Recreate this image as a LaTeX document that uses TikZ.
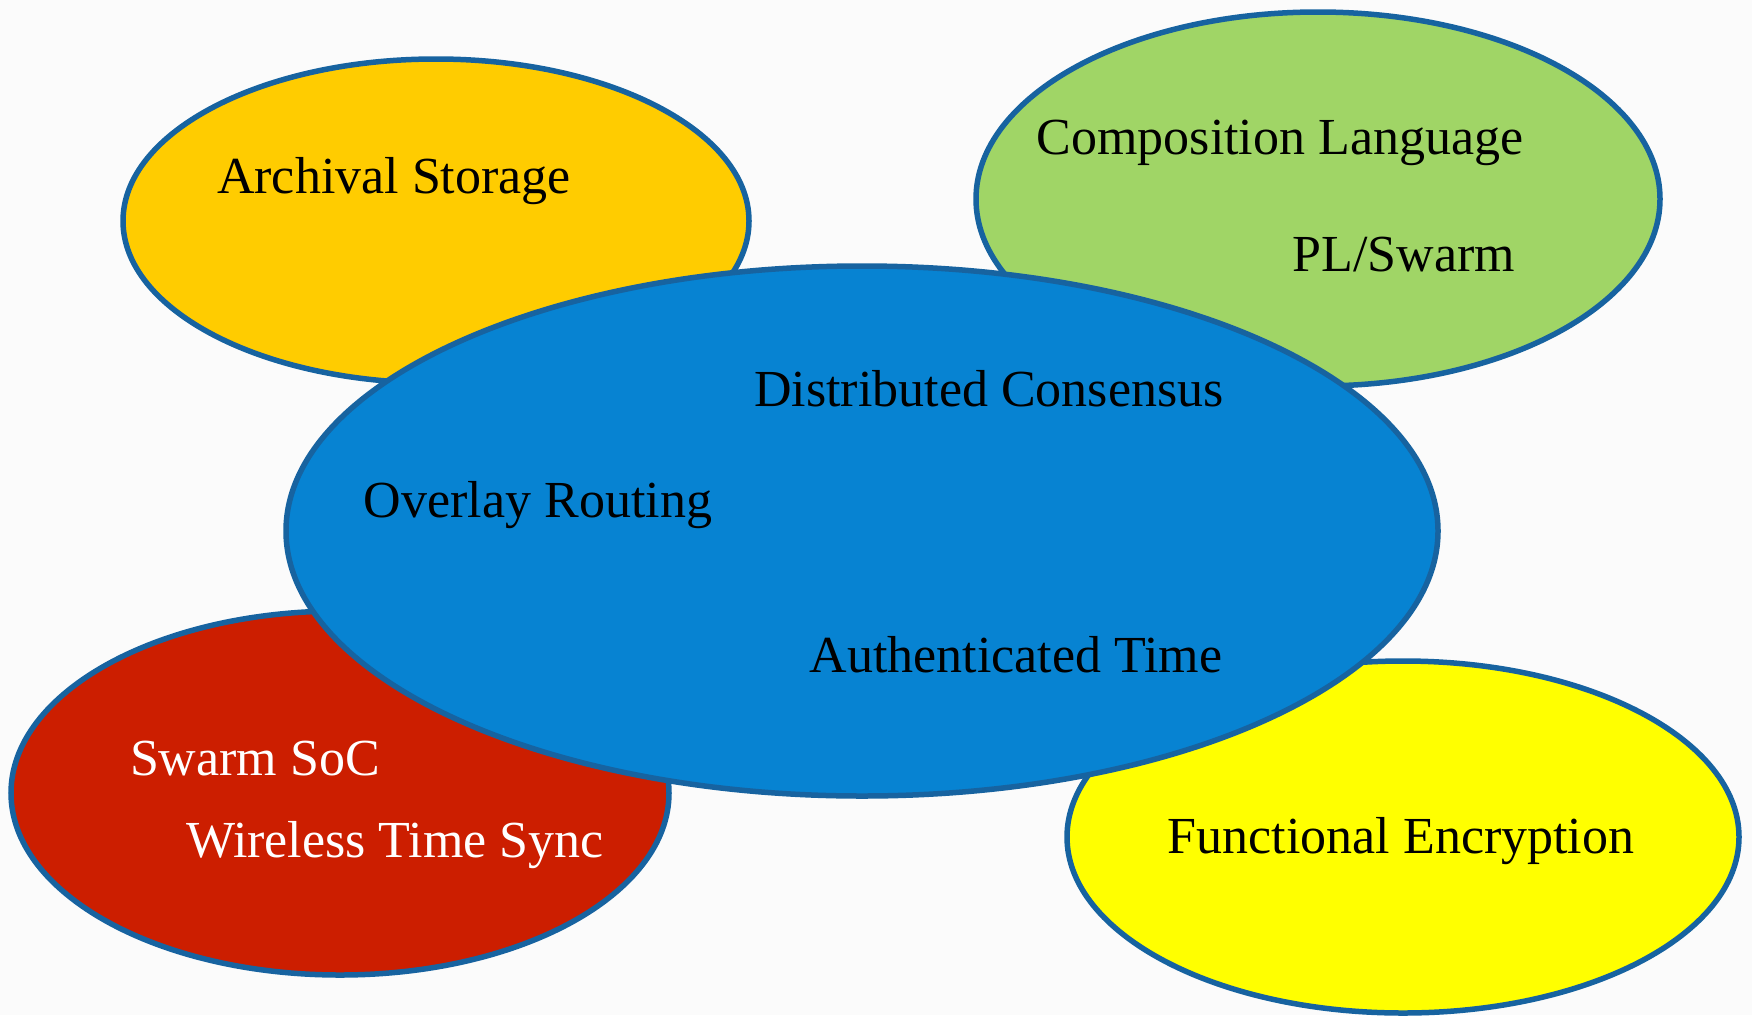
\documentclass[tikz,border=0pt]{standalone}
\usepackage{fontspec}
\setmainfont{Liberation Serif}
\usetikzlibrary{shapes.geometric}
\definecolor{bgc}{HTML}{FBFBFB}
\definecolor{edgec}{HTML}{1763A0}
\definecolor{orangec}{HTML}{FFCC00}
\definecolor{greenc}{HTML}{A0D566}
\definecolor{bluec}{HTML}{0783D2}
\definecolor{redc}{HTML}{CC1E00}
\definecolor{yellowc}{HTML}{FFFF00}
\begin{document}
\begin{tikzpicture}[x=1pt,y=-1pt,
  blob/.style={ellipse, draw=edgec, line width=5.5pt, inner sep=0pt},
  lbl/.style={font=\fontsize{52}{56}\selectfont, inner sep=0pt, anchor=center, text=black},
  wlbl/.style={lbl, text=white}]
\fill[bgc] (0,0) rectangle (1752,1015);
\useasboundingbox (0,0) rectangle (1752,1015);
% ellipses
\node[blob, fill=orangec, minimum width=626pt, minimum height=324pt] (arch) at (436,221) {};
\node[blob, fill=greenc, minimum width=684pt, minimum height=374pt] (comp) at (1318,199) {};
\node[blob, fill=redc, minimum width=658pt, minimum height=364pt] (soc) at (340,793) {};
\node[blob, fill=yellowc, minimum width=672pt, minimum height=352pt] (fenc) at (1403,837) {};
\node[blob, fill=bluec, minimum width=1152pt, minimum height=530pt] (core) at (862,531) {};
% labels
\node[lbl] (t1) at (394,181) {Archival Storage};
\node[lbl] (t2) at (1280,143) {Composition Language};
\node[lbl] (t3) at (1404,255) {PL/Swarm};
\node[lbl] (t4) at (989,389) {Distributed Consensus};
\node[lbl] (t5) at (538,505) {Overlay Routing};
\node[lbl] (t6) at (1016,655) {Authenticated Time};
\node[wlbl] (t7) at (255,759) {Swarm SoC};
\node[wlbl] (t8) at (395,845) {Wireless Time Sync};
\node[lbl] (t9) at (1401,841) {Functional Encryption};
\end{tikzpicture}
\end{document}
